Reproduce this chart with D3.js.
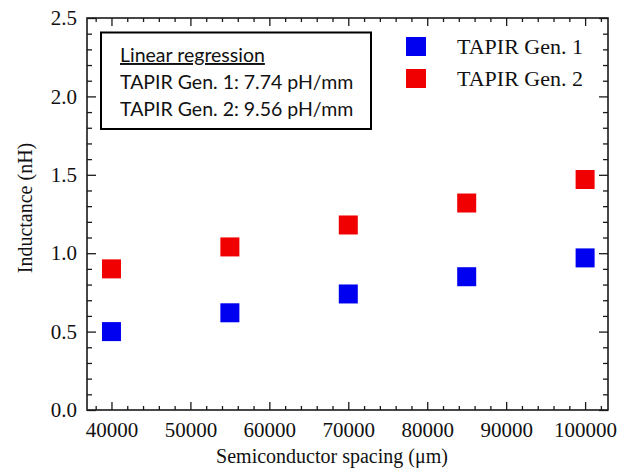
<!DOCTYPE html>
<html>
<head>
<meta charset="utf-8">
<script src="https://cdn.jsdelivr.net/npm/d3@7"></script>
<style>
  body { margin: 0; background: #fff; }
  svg { display: block; }
</style>
</head>
<body>
<svg width="632" height="473"></svg>
<script>
// data
const spacing = [40000, 55000, 70000, 85000, 100000];
const gen1 = [0.50, 0.62, 0.74, 0.85, 0.97];
const gen2 = [0.90, 1.04, 1.18, 1.32, 1.47];
const seriesNames = ["TAPIR Gen. 1", "TAPIR Gen. 2"];
const seriesColors = ["#0000f0", "#f00000"];
const xTicks = [40000, 50000, 60000, 70000, 80000, 90000, 100000];
const yTicks = [0.0, 0.5, 1.0, 1.5, 2.0, 2.5];
const boxLines = ["Linear regression", "TAPIR Gen. 1: 7.74 pH/mm", "TAPIR Gen. 2: 9.56 pH/mm"];

const svg = d3.select("svg");
const plotLeft = 87, plotRight = 608, plotTop = 18, plotBottom = 410;
const serif = "'Liberation Serif', 'Times New Roman', serif";

const x = d3.scaleLinear().domain([36900, 102900]).range([plotLeft, plotRight]);
const y = d3.scaleLinear().domain([0, 2.5]).range([plotBottom, plotTop]);

// minor ticks
const xMinor = d3.range(38000, 102001, 2000).filter((v) => v % 10000 !== 0);
const yMinor = d3.range(0, 2.501, 0.1).filter((v) => Math.abs(v * 2 - Math.round(v * 2)) > 1e-6);

const axisStyle = (g) => {
  g.select(".domain").remove();
  g.selectAll("line").attr("stroke", "#1a1a1a").attr("stroke-width", 1.3);
};
const labelStyle = (g) => {
  g.attr("font-family", null);
  g.selectAll("text").style("font-family", serif).attr("font-size", 21).attr("fill", "#111");
};

// bottom and top ticks point inward
svg.append("g").attr("transform", `translate(0,${plotBottom})`)
  .call(d3.axisBottom(x).tickValues(xTicks).tickSize(-8).tickPadding(12).tickFormat(d3.format("d")))
  .call(axisStyle)
  .call(labelStyle);
svg.append("g").attr("transform", `translate(0,${plotBottom})`)
  .call(d3.axisBottom(x).tickValues(xMinor).tickSize(-4).tickFormat(""))
  .call(axisStyle);
svg.append("g").attr("transform", `translate(0,${plotTop})`)
  .call(d3.axisTop(x).tickValues(xTicks).tickSize(-8).tickFormat(""))
  .call(axisStyle);
svg.append("g").attr("transform", `translate(0,${plotTop})`)
  .call(d3.axisTop(x).tickValues(xMinor).tickSize(-4).tickFormat(""))
  .call(axisStyle);

// left and right ticks
svg.append("g").attr("transform", `translate(${plotLeft},0)`)
  .call(d3.axisLeft(y).tickValues(yTicks).tickSize(-9).tickPadding(10).tickFormat(d3.format(".1f")))
  .call(axisStyle)
  .call(labelStyle);
svg.append("g").attr("transform", `translate(${plotLeft},0)`)
  .call(d3.axisLeft(y).tickValues(yMinor).tickSize(-5).tickFormat(""))
  .call(axisStyle);
svg.append("g").attr("transform", `translate(${plotRight},0)`)
  .call(d3.axisRight(y).tickValues(yTicks).tickSize(-9).tickFormat(""))
  .call(axisStyle);
svg.append("g").attr("transform", `translate(${plotRight},0)`)
  .call(d3.axisRight(y).tickValues(yMinor).tickSize(-5).tickFormat(""))
  .call(axisStyle);

// frame
svg.append("rect")
  .attr("x", plotLeft).attr("y", plotTop)
  .attr("width", plotRight - plotLeft).attr("height", plotBottom - plotTop)
  .attr("fill", "none").attr("stroke", "#1a1a1a").attr("stroke-width", 1.6);

// axis titles
svg.append("text")
  .attr("x", 332).attr("y", 463)
  .attr("text-anchor", "middle")
  .style("font-family", serif).attr("font-size", 20).attr("fill", "#111")
  .text("Semiconductor spacing (\u03bcm)");
svg.append("text")
  .attr("transform", "translate(32,208) rotate(-90)")
  .attr("text-anchor", "middle")
  .style("font-family", serif).attr("font-size", 20).attr("fill", "#111")
  .text("Inductance (nH)");

// markers
const size = 19;
[gen1, gen2].forEach((vals, i) => {
  svg.append("g").selectAll("rect")
    .data(vals.map((v, j) => ({ x: spacing[j], y: v })))
    .join("rect")
    .attr("x", (d) => x(d.x) - size / 2)
    .attr("y", (d) => y(d.y) - size / 2)
    .attr("width", size).attr("height", size)
    .attr("fill", seriesColors[i]);
});

// legend
const legend = svg.append("g");
seriesNames.forEach((name, i) => {
  legend.append("rect")
    .attr("x", 406).attr("y", 37 + i * 32)
    .attr("width", 20).attr("height", 19)
    .attr("fill", seriesColors[i]);
  legend.append("text")
    .attr("x", 457).attr("y", 54 + i * 32)
    .style("font-family", serif).attr("font-size", 22).attr("fill", "#111")
    .text(name);
});

// regression note box
svg.append("rect")
  .attr("x", 101).attr("y", 32.5)
  .attr("width", 270).attr("height", 96.5)
  .attr("fill", "#fff").attr("stroke", "#000").attr("stroke-width", 2);
const boxText = svg.append("g")
  .style("font-family", "Lato, 'Liberation Sans', sans-serif")
  .attr("font-size", 19.5).attr("fill", "#111");
boxLines.forEach((line, i) => {
  const t = boxText.append("text")
    .attr("x", 120).attr("y", 62 + i * 26.8)
    .text(line);
  if (i === 0) t.attr("text-decoration", "underline");
});
</script>
</body>
</html>
